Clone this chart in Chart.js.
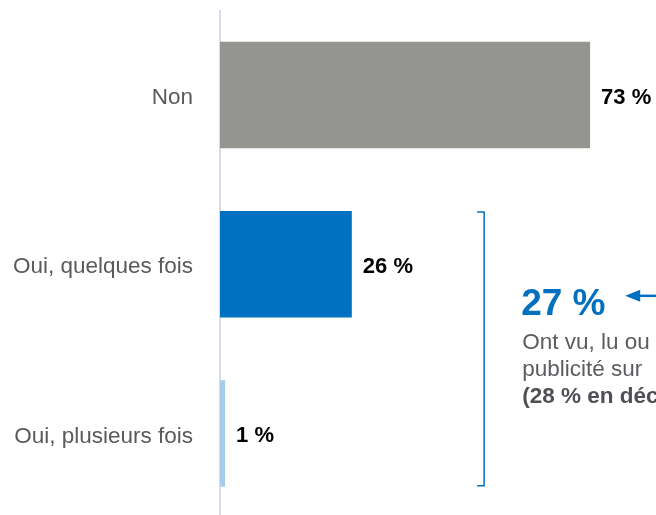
<!DOCTYPE html>
<html>
<head>
<meta charset="utf-8">
<script src="https://cdn.jsdelivr.net/npm/chart.js@4"></script>
<style>
  html, body { margin: 0; padding: 0; background: #fff; overflow: hidden; }
  #wrap { width: 656px; height: 518px; }
</style>
</head>
<body>
<div id="wrap"><canvas id="chart"></canvas></div>
<script>
// answers and shares (%)
var categories = ['Non', 'Oui, quelques fois', 'Oui, plusieurs fois'];
var values = [73, 26, 1];
var barColors = ['#949490', '#0070c0', '#a8cdec'];
var previousShare = 28;

var ouiTotal = values[1] + values[2];
var noteLines = [
    { text: 'Ont vu, lu ou entendu', bold: false },
    { text: 'publicité sur', bold: false },
    { text: '(' + previousShare + ' % en décembre)', bold: true }
];

var fontFamily = '"Liberation Sans", Arial, sans-serif';

// value labels at the end of each bar
var valueLabels = {
    id: 'valueLabels',
    afterDatasetsDraw: function(chart) {
        var ctx = chart.ctx;
        var meta = chart.getDatasetMeta(0);
        ctx.save();
        ctx.font = 'bold 22px ' + fontFamily;
        ctx.fillStyle = '#000';
        ctx.textAlign = 'left';
        ctx.textBaseline = 'middle';
        meta.data.forEach(function(bar, i) {
            ctx.fillText(values[i] + ' %', bar.x + 11, bar.y + 3);
        });
        ctx.restore();
    }
};

// bracket over the two "Oui" bars with the total and note
var ouiBracket = {
    id: 'ouiBracket',
    afterDraw: function(chart) {
        var ctx = chart.ctx;
        var meta = chart.getDatasetMeta(0);
        var xs = chart.scales.x;
        var b1 = meta.data[1], b2 = meta.data[2];
        var top = b1.y - b1.height / 2 + 1;
        var bottom = b2.y + b2.height / 2 - 1;
        var bx = xs.getPixelForValue(52.1);
        var tx = xs.getPixelForValue(59.6);
        var mid = (top + bottom) / 2;

        ctx.save();
        ctx.strokeStyle = '#0070c0';
        ctx.lineWidth = 1.5;
        ctx.beginPath();
        ctx.moveTo(bx - 7, top);
        ctx.lineTo(bx, top);
        ctx.lineTo(bx, bottom);
        ctx.lineTo(bx - 7, bottom);
        ctx.stroke();

        // total
        ctx.fillStyle = '#0070c0';
        ctx.font = 'bold 37px ' + fontFamily;
        ctx.textAlign = 'left';
        ctx.textBaseline = 'alphabetic';
        ctx.fillText(ouiTotal + ' %', tx - 1, mid - 34);

        // arrow pointing at the total
        var ay = mid - 53;
        var ax = tx + 103;
        ctx.lineWidth = 2.5;
        ctx.beginPath();
        ctx.moveTo(ax + 10, ay);
        ctx.lineTo(chart.width + 5, ay);
        ctx.stroke();
        ctx.beginPath();
        ctx.moveTo(ax, ay);
        ctx.lineTo(ax + 15, ay - 6);
        ctx.lineTo(ax + 15, ay + 6);
        ctx.closePath();
        ctx.fill();

        // note
        noteLines.forEach(function(line, i) {
            ctx.font = (line.bold ? 'bold ' : '') + '22.5px ' + fontFamily;
            ctx.fillStyle = line.bold ? '#4f4f55' : '#5b5b60';
            ctx.fillText(line.text, tx, mid + 0.5 + i * 27);
        });
        ctx.restore();
    }
};

new Chart(document.getElementById('chart'), {
    type: 'bar',
    data: {
        labels: categories,
        datasets: [{
            data: values,
            backgroundColor: barColors,
            borderWidth: 0,
            categoryPercentage: 1,
            barPercentage: 0.63
        }]
    },
    options: {
        indexAxis: 'y',
        responsive: true,
        maintainAspectRatio: false,
        animation: false,
        layout: { padding: { top: 10.5, right: 0, bottom: 0, left: 0 } },
        plugins: {
            legend: { display: false },
            tooltip: { enabled: false }
        },
        scales: {
            x: {
                display: false,
                min: 0,
                max: 86
            },
            y: {
                afterFit: function(scale) {
                    scale.width = 220;
                    scale.paddingTop = 0;
                    scale.paddingBottom = 0;
                },
                grid: { display: false, drawTicks: false },
                border: { display: true, color: '#d6deee', width: 2 },
                ticks: {
                    padding: 27,
                    labelOffset: 3,
                    color: '#5a5a5a',
                    font: { family: fontFamily, size: 22.5 }
                }
            }
        }
    },
    plugins: [valueLabels, ouiBracket]
});
</script>
</body>
</html>
